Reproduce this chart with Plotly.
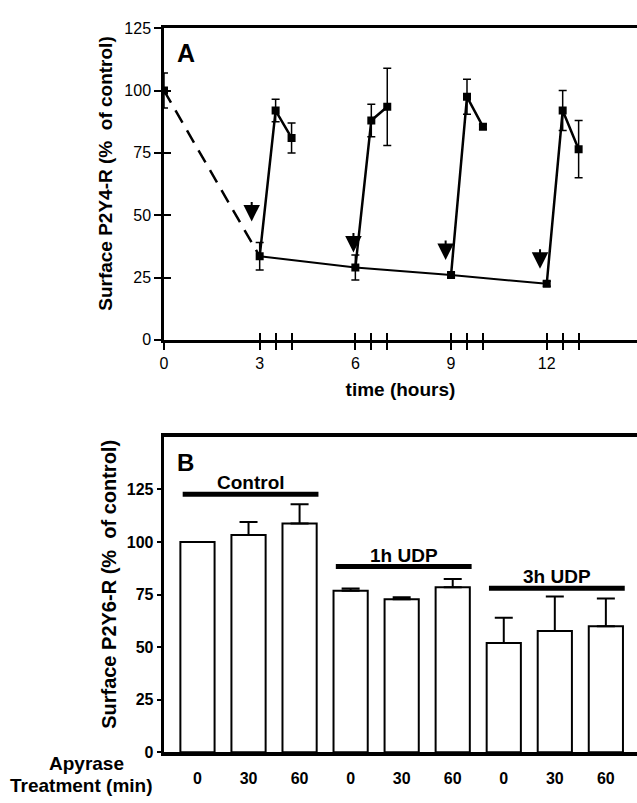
import plotly.graph_objects as go

W, H = 637, 803

# ---------------- Panel A data ----------------
time_hours = [0, 3, 3.5, 4, 6, 6.5, 7, 9, 9.5, 10, 12, 12.5, 13]
surface_p2y4 = [100, 33.5, 92, 81, 29, 88, 93.5, 26, 97.5, 85.5, 22.5, 92, 76.5]
sem_p2y4 = [7, 5.5, 4.5, 6, 5, 6.5, 15.5, 1, 7, 1, 1, 8, 11.5]
baseline_idx = [1, 4, 7, 10]
recovery_idx = [[1, 2, 3], [4, 5, 6], [7, 8, 9], [10, 11, 12]]
dashed_idx = [0, 1]
arrow_x = [2.75, 5.94, 8.83, 11.79]
arrow_tip = [47.5, 35, 32, 28.5]
a_major_ticks = [0, 3, 6, 9, 12]
a_minor_ticks = [3.5, 4, 6.5, 7, 9.5, 10, 12.5, 13]
a_yticks = [0, 25, 50, 75, 100, 125]

# ---------------- Panel B data ----------------
groups = ["Control", "1h UDP", "3h UDP"]
apyrase_min = ["0", "30", "60"]
surface_p2y6 = [100, 103.3, 108.8, 76.8, 72.8, 78.4, 51.9, 57.6, 59.9]
sem_p2y6 = [0, 6.2, 9.1, 1.1, 0.9, 4.0, 12.1, 16.4, 13.2]
group_line_y = [122.7, 88.3, 78.0]
b_yticks = [0, 25, 50, 75, 100, 125]

FONT = "Liberation Sans, Arial, sans-serif"

fig = go.Figure()

def px_x(p):
    return p / W

def px_y(p):
    return 1 - p / H

# dashed decline
fig.add_trace(go.Scatter(
    x=[time_hours[i] for i in dashed_idx], y=[surface_p2y4[i] for i in dashed_idx],
    mode="lines", line=dict(color="black", width=2.5, dash="14px,9px"),
    xaxis="x", yaxis="y", showlegend=False, hoverinfo="skip"))
# baseline line
fig.add_trace(go.Scatter(
    x=[time_hours[i] for i in baseline_idx], y=[surface_p2y4[i] for i in baseline_idx],
    mode="lines", line=dict(color="black", width=2),
    xaxis="x", yaxis="y", showlegend=False, hoverinfo="skip"))
# recovery lines
for idx in recovery_idx:
    fig.add_trace(go.Scatter(
        x=[time_hours[i] for i in idx], y=[surface_p2y4[i] for i in idx],
        mode="lines", line=dict(color="black", width=2.5),
        xaxis="x", yaxis="y", showlegend=False, hoverinfo="skip"))
# markers with error bars
fig.add_trace(go.Scatter(
    x=time_hours, y=surface_p2y4, mode="markers",
    marker=dict(symbol="square", size=8, color="black"),
    error_y=dict(type="data", array=sem_p2y4, color="black", thickness=1.5, width=4),
    xaxis="x", yaxis="y", showlegend=False, hoverinfo="skip"))
# invisible trace for overlay tick axes
fig.add_trace(go.Scatter(x=[0], y=[0], mode="markers", marker=dict(opacity=0),
                         xaxis="x3", yaxis="y3", showlegend=False, hoverinfo="skip"))

# Panel B bars
b_x = list(range(len(surface_p2y6)))
b_labels = [apyrase_min[i % 3] for i in b_x]
fig.add_trace(go.Bar(
    x=b_x, y=surface_p2y6, width=0.67,
    marker=dict(color="white", line=dict(color="black", width=2)),
    error_y=dict(type="data", symmetric=False, array=sem_p2y6,
                 arrayminus=[0] * len(sem_p2y6), color="black", thickness=2, width=9),
    xaxis="x2", yaxis="y2", showlegend=False, hoverinfo="skip"))

a_dom_x = [161 / W, 1]
a_dom_y = [(H - 339) / H, (H - 20.7) / H]
b_dom_x = [160.7 / W, 1]
b_dom_y = [(H - 760.4) / H, (H - 438) / H]

tickfontA = dict(family=FONT, size=16, color="black")
tickfontB = dict(family=FONT, size=16, color="black", weight="bold")

all_a_ticks = sorted(a_major_ticks + a_minor_ticks)
a_ticktext = [str(int(t)) if t in a_major_ticks else "" for t in all_a_ticks]

fig.update_layout(
    width=W, height=H, margin=dict(l=0, r=0, t=0, b=0),
    paper_bgcolor="white", plot_bgcolor="white",
    font=dict(family=FONT, color="black"),
    xaxis=dict(domain=a_dom_x, anchor="y", range=[0, 14.83],
               tickvals=all_a_ticks, ticktext=a_ticktext,
               ticks="outside", ticklen=7, tickwidth=2, tickcolor="black",
               showline=True, linecolor="black", linewidth=2.5, mirror=True,
               showgrid=False, zeroline=False, tickfont=tickfontA,
               title=dict(text="<b>time (hours)</b>", font=dict(size=19, family=FONT), standoff=12)),
    yaxis=dict(domain=a_dom_y, anchor="x", range=[0, 125], tickvals=a_yticks,
               ticks="outside", ticklen=7, tickwidth=2, tickcolor="black",
               showline=True, linecolor="black", linewidth=2.5,
               showgrid=False, zeroline=False, tickfont=tickfontA),
    xaxis3=dict(overlaying="x", anchor="y3", range=[0, 14.83], tickvals=all_a_ticks,
                ticks="inside", ticklen=7, tickwidth=2, tickcolor="black",
                showticklabels=False, showline=False, showgrid=False, zeroline=False),
    yaxis3=dict(overlaying="y", anchor="x3", range=[0, 125], tickvals=a_yticks[1:],
                ticks="inside", ticklen=7, tickwidth=2, tickcolor="black",
                showticklabels=False, showline=False, showgrid=False, zeroline=False),
    xaxis2=dict(domain=b_dom_x, anchor="y2", range=[-0.662, 8.61],
                tickvals=b_x, ticktext=b_labels, ticks="", ticklabelstandoff=8,
                showline=True, linecolor="black", linewidth=4, mirror=True,
                showgrid=False, zeroline=False, tickfont=tickfontB),
    yaxis2=dict(domain=b_dom_y, anchor="x2", range=[0, 150], tickvals=b_yticks,
                ticks="outside", ticklen=4, tickwidth=2, tickcolor="black",
                showline=True, linecolor="black", linewidth=3,
                showgrid=False, zeroline=False, tickfont=tickfontB),
)

annotations = []
# y-axis titles
annotations.append(dict(x=px_x(102), y=px_y(169), xref="paper", yref="paper",
                        text="<b>Surface P2Y4-R (%  of control)</b>", textangle=-90,
                        showarrow=False, xanchor="center", yanchor="middle",
                        font=dict(size=19, family=FONT, color="black")))
annotations.append(dict(x=px_x(105), y=px_y(589), xref="paper", yref="paper",
                        text="<b>Surface P2Y6-R (%  of control)</b>", textangle=-90,
                        showarrow=False, xanchor="center", yanchor="middle",
                        font=dict(size=20, family=FONT, color="black")))
# arrows in panel A
for ax_, tip in zip(arrow_x, arrow_tip):
    annotations.append(dict(x=ax_, y=tip, xref="x", yref="y", ax=0, ay=-21,
                            showarrow=True, arrowhead=2, arrowsize=1.65, arrowwidth=2,
                            arrowcolor="black", text=""))
# panel letters
annotations.append(dict(x=px_x(172), y=px_y(46), xref="paper", yref="paper",
                        text="<b>A</b>", showarrow=False, xanchor="left", yanchor="middle",
                        font=dict(size=25, family=FONT, color="black")))
annotations.append(dict(x=px_x(172), y=px_y(464), xref="paper", yref="paper",
                        text="<b>B</b>", showarrow=False, xanchor="left", yanchor="middle",
                        font=dict(size=24, family=FONT, color="black")))
# group labels
shapes = []
for gi, (g, ly) in enumerate(zip(groups, group_line_y)):
    c = gi * 3 + 1
    shapes.append(dict(type="line", xref="x2", yref="y2", x0=c - 1.29, x1=c + 1.37,
                       y0=ly, y1=ly, line=dict(color="black", width=5)))
    annotations.append(dict(x=c + 0.05, y=ly, xref="x2", yref="y2", text="<b>%s</b>" % g,
                            showarrow=False, yanchor="bottom", yshift=-1,
                            font=dict(size=19, family=FONT, color="black")))
# Apyrase treatment label
annotations.append(dict(x=px_x(83), y=px_y(772), xref="paper", yref="paper",
                        text="<b>Apyrase</b>", showarrow=False, xanchor="center", yanchor="middle",
                        font=dict(size=19, family=FONT, color="black")))
annotations.append(dict(x=px_x(78), y=px_y(794), xref="paper", yref="paper",
                        text="<b>Treatment (min)</b>", showarrow=False, xanchor="center", yanchor="middle",
                        font=dict(size=19, family=FONT, color="black")))

fig.update_layout(annotations=annotations, shapes=shapes)

fig.write_html("out.html")
